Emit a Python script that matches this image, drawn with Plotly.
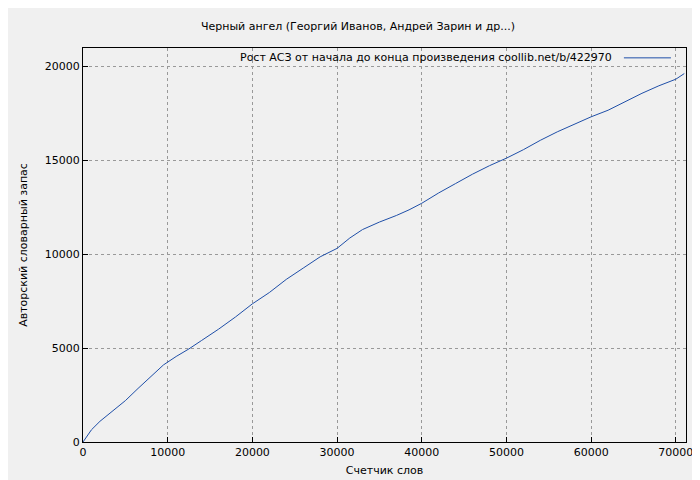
import plotly.graph_objects as go

words = [0, 500, 1000, 2000, 3500, 5000, 6500, 8000, 9500, 11000, 12500, 14000, 16000, 18000, 20000, 22000, 24000, 26000, 28000, 30000, 31500, 33000, 35000, 37000, 38500, 40000, 42000, 44000, 46000, 48000, 50000, 52000, 54000, 56000, 58000, 60000, 62000, 64000, 66000, 68000, 70000, 71000]
vocab = [0, 300, 650, 1100, 1650, 2200, 2850, 3500, 4100, 4550, 4950, 5400, 6000, 6650, 7350, 7950, 8650, 9250, 9850, 10300, 10850, 11300, 11700, 12050, 12350, 12700, 13250, 13750, 14250, 14700, 15100, 15550, 16050, 16500, 16900, 17300, 17650, 18100, 18550, 18950, 19300, 19600]
xticks = list(range(0, 70001, 10000))
yticks = list(range(0, 20001, 5000))
legend_text = "Рост АСЗ от начала до конца произведения coollib.net/b/422970"
line_color = "#1f4fa8"

fig = go.Figure(go.Scatter(x=words, y=vocab, mode="lines",
    line=dict(color=line_color, width=1), name=legend_text, showlegend=False))

ax = dict(showline=True, linecolor="black", linewidth=1, mirror=True, automargin=False,
          gridcolor="#999999", griddash="dot", gridwidth=1, zeroline=False,
          ticks="inside", ticklen=5, tickcolor="black", tickfont=dict(size=11, color="black"))
fig.update_layout(
    width=700, height=480, paper_bgcolor="#f0f0f0", plot_bgcolor="#f0f0f0",
    font=dict(family="DejaVu Sans", size=11, color="black"),
    title=dict(text="Черный ангел (Георгий Иванов, Андрей Зарин и др...)", x=0.5, y=0.97, font=dict(size=11)),
    margin=dict(l=75, r=22, t=40, b=46),
    xaxis=dict(ax, range=[0, 71200], tickvals=xticks, ticktext=[str(v) for v in xticks],
               title=dict(text="Счетчик слов", font=dict(size=11), standoff=8)),
    yaxis=dict(ax, range=[0, 20960], tickvals=yticks, ticktext=[str(v) for v in yticks],
               title=dict(text="Авторский словарный запас", font=dict(size=11), standoff=14)),
)
fig.add_annotation(xref="paper", yref="paper", x=0.88, y=0.975, xanchor="right", yanchor="middle",
                   text=legend_text, showarrow=False, font=dict(size=11))
fig.add_shape(type="line", xref="paper", yref="paper", x0=0.897, x1=0.975, y0=0.975, y1=0.975,
              line=dict(color=line_color, width=1))
fig.write_html("out.html")
